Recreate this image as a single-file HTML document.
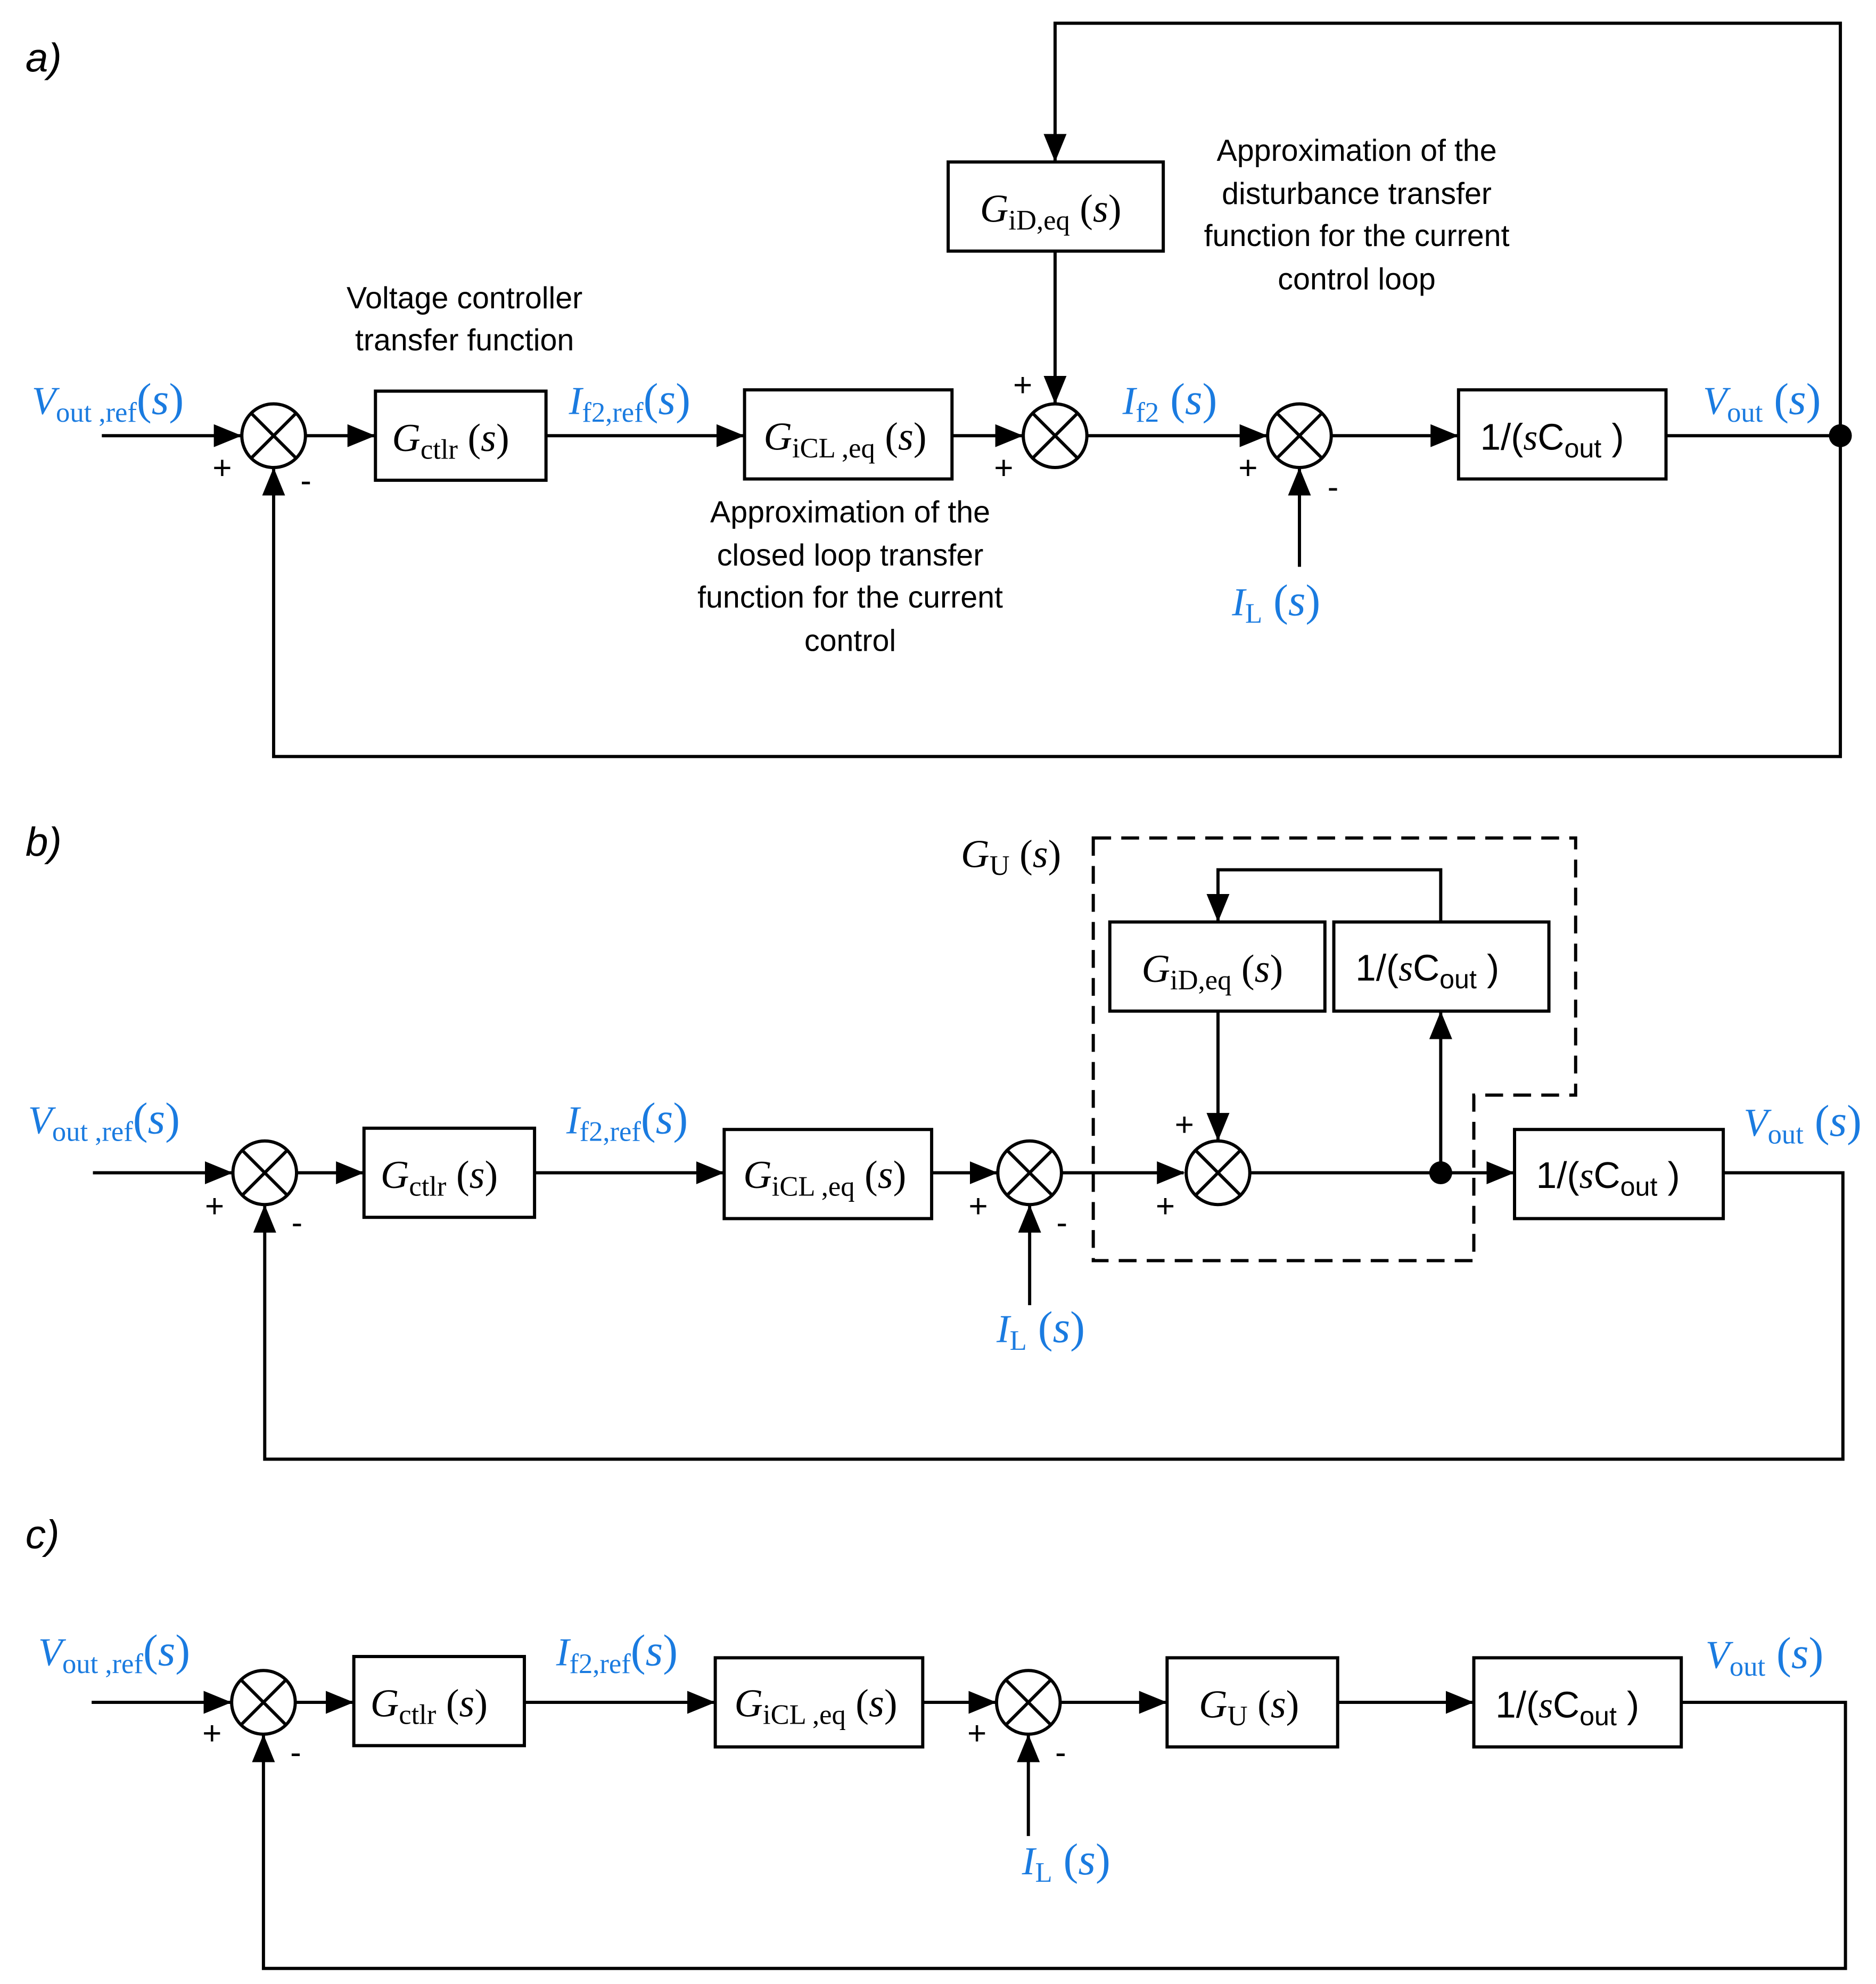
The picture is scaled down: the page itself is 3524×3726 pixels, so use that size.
<!DOCTYPE html>
<html><head><meta charset="utf-8"><style>
html,body{margin:0;padding:0;background:#fff}
svg{display:block}
text{font-family:"Liberation Serif",serif}
.sans text,text.sans{font-family:"Liberation Sans",sans-serif;font-size:24px}
.b{font-size:31px}
.blue{fill:#1a7be0}
.i{font-style:italic}
.sub{font-size:22px}
.pm text{font-family:"Liberation Sans",sans-serif;font-size:26px}
.p{font-size:35px}
</style></head><body>
<svg width="3524" height="3726" viewBox="0 0 1474 1558" xmlns="http://www.w3.org/2000/svg">
<defs><marker id="a" markerWidth="22" markerHeight="18" refX="21" refY="9" orient="auto" markerUnits="userSpaceOnUse"><path d="M0,0 L22,9 L0,18 z" fill="#000"/></marker></defs>
<g fill="none" stroke="#000" stroke-width="2.5">
<polyline points="1446,342 1446,18 829,18 829,126" marker-end="url(#a)"/>
<polyline points="1446,342 1446,594 215,594 215,368" marker-end="url(#a)"/>
<line x1="80" y1="342" x2="189" y2="342" marker-end="url(#a)"/>
<line x1="241" y1="342" x2="294" y2="342" marker-end="url(#a)"/>
<line x1="429" y1="342" x2="584" y2="342" marker-end="url(#a)"/>
<line x1="748" y1="342" x2="803" y2="342" marker-end="url(#a)"/>
<line x1="829" y1="197" x2="829" y2="316" marker-end="url(#a)"/>
<line x1="855" y1="342" x2="995" y2="342" marker-end="url(#a)"/>
<line x1="1021" y1="445" x2="1021" y2="368" marker-end="url(#a)"/>
<line x1="1047" y1="342" x2="1145" y2="342" marker-end="url(#a)"/>
<line x1="1309" y1="342" x2="1446" y2="342"/>
<rect x="295" y="307" width="134" height="70"/>
<rect x="585" y="306" width="163" height="70"/>
<rect x="745" y="127" width="169" height="70"/>
<rect x="1146" y="306" width="163" height="70"/>
<line x1="73" y1="921" x2="182" y2="921" marker-end="url(#a)"/>
<line x1="234" y1="921" x2="285" y2="921" marker-end="url(#a)"/>
<line x1="420" y1="921" x2="568" y2="921" marker-end="url(#a)"/>
<line x1="732" y1="921" x2="783" y2="921" marker-end="url(#a)"/>
<line x1="809" y1="1025" x2="809" y2="947" marker-end="url(#a)"/>
<line x1="835" y1="921" x2="930" y2="921" marker-end="url(#a)"/>
<line x1="983" y1="921" x2="1189" y2="921" marker-end="url(#a)"/>
<line x1="957" y1="794" x2="957" y2="895" marker-end="url(#a)"/>
<line x1="1132" y1="921" x2="1132" y2="795" marker-end="url(#a)"/>
<polyline points="1132,724 1132,683 957,683 957,723" marker-end="url(#a)"/>
<polyline points="1354,921 1448,921 1448,1146 208,1146 208,947" marker-end="url(#a)"/>
<rect x="286" y="886" width="134" height="70"/>
<rect x="569" y="887" width="163" height="70"/>
<rect x="872" y="724" width="169" height="70"/>
<rect x="1048" y="724" width="169" height="70"/>
<rect x="1190" y="887" width="164" height="70"/>
<polygon points="859,658 1238,658 1238,860 1158,860 1158,990 859,990" stroke-dasharray="14,8"/>
<line x1="72" y1="1337" x2="181" y2="1337" marker-end="url(#a)"/>
<line x1="233" y1="1337" x2="277" y2="1337" marker-end="url(#a)"/>
<line x1="412" y1="1337" x2="561" y2="1337" marker-end="url(#a)"/>
<line x1="725" y1="1337" x2="782" y2="1337" marker-end="url(#a)"/>
<line x1="808" y1="1442" x2="808" y2="1363" marker-end="url(#a)"/>
<line x1="834" y1="1337" x2="916" y2="1337" marker-end="url(#a)"/>
<line x1="1051" y1="1337" x2="1157" y2="1337" marker-end="url(#a)"/>
<polyline points="1321,1337 1450,1337 1450,1546 207,1546 207,1363" marker-end="url(#a)"/>
<rect x="278" y="1301" width="134" height="70"/>
<rect x="562" y="1302" width="163" height="70"/>
<rect x="917" y="1302" width="134" height="70"/>
<rect x="1158" y="1302" width="163" height="70"/>
</g>
<g fill="#fff" stroke="#000" stroke-width="2.5">
<circle cx="215" cy="342" r="25"/><path d="M197,324 L233,360 M233,324 L197,360"/>
<circle cx="829" cy="342" r="25"/><path d="M811,324 L847,360 M847,324 L811,360"/>
<circle cx="1021" cy="342" r="25"/><path d="M1003,324 L1039,360 M1039,324 L1003,360"/>
<circle cx="208" cy="921" r="25"/><path d="M190,903 L226,939 M226,903 L190,939"/>
<circle cx="809" cy="921" r="25"/><path d="M791,903 L827,939 M827,903 L791,939"/>
<circle cx="957" cy="921" r="25"/><path d="M939,903 L975,939 M975,903 L939,939"/>
<circle cx="207" cy="1337" r="25"/><path d="M189,1319 L225,1355 M225,1319 L189,1355"/>
<circle cx="808" cy="1337" r="25"/><path d="M790,1319 L826,1355 M826,1319 L790,1355"/>
</g>
<circle cx="1446" cy="342" r="9"/>
<circle cx="1132" cy="921" r="9"/>
<text x="20" y="56" class="sans i" style="font-size:32px">a)</text>
<text x="20" y="672" class="sans i" style="font-size:32px">b)</text>
<text x="20" y="1216" class="sans i" style="font-size:32px">c)</text>
<g class="pm">
<text x="167" y="376">+</text><text x="236" y="386">-</text>
<text x="796" y="311">+</text><text x="781" y="376">+</text>
<text x="973" y="376">+</text><text x="1043" y="391">-</text>
<text x="161" y="956">+</text><text x="229" y="969">-</text>
<text x="761" y="956">+</text><text x="830" y="969">-</text>
<text x="923" y="892">+</text><text x="908" y="956">+</text>
<text x="159" y="1370">+</text><text x="228" y="1385">-</text>
<text x="760" y="1370">+</text><text x="829" y="1385">-</text>
</g>
<g class="sans" text-anchor="middle">
<text x="365" y="242">Voltage controller</text><text x="365" y="275">transfer function</text>
<text x="668" y="410">Approximation of the</text><text x="668" y="444">closed loop transfer</text>
<text x="668" y="477">function for the current</text><text x="668" y="511">control</text>
<text x="1066" y="126">Approximation of the</text><text x="1066" y="160">disturbance transfer</text>
<text x="1066" y="193">function for the current</text><text x="1066" y="227">control loop</text>
</g>
<g class="b">
<text x="308" y="354"><tspan class="i">G</tspan><tspan class="sub" dy="6">ctlr</tspan><tspan dy="-6"> (</tspan><tspan class="i">s</tspan>)</text>
<text x="600" y="353"><tspan class="i">G</tspan><tspan class="sub" dy="6">iCL ,eq</tspan><tspan dy="-6"> (</tspan><tspan class="i">s</tspan>)</text>
<text x="770" y="174"><tspan class="i">G</tspan><tspan class="sub" dy="6">iD,eq</tspan><tspan dy="-6"> (</tspan><tspan class="i">s</tspan>)</text>
<text x="1163" y="353" style="font-family:'Liberation Sans',sans-serif;font-size:29px">1/(<tspan class="i" style="font-family:'Liberation Serif',serif">s</tspan>C<tspan dy="6" style="font-size:21px">out</tspan><tspan dy="-6"> )</tspan></text>
<text x="299" y="933"><tspan class="i">G</tspan><tspan class="sub" dy="6">ctlr</tspan><tspan dy="-6"> (</tspan><tspan class="i">s</tspan>)</text>
<text x="584" y="933"><tspan class="i">G</tspan><tspan class="sub" dy="6">iCL ,eq</tspan><tspan dy="-6"> (</tspan><tspan class="i">s</tspan>)</text>
<text x="897" y="771"><tspan class="i">G</tspan><tspan class="sub" dy="6">iD,eq</tspan><tspan dy="-6"> (</tspan><tspan class="i">s</tspan>)</text>
<text x="1065" y="770" style="font-family:'Liberation Sans',sans-serif;font-size:29px">1/(<tspan class="i" style="font-family:'Liberation Serif',serif">s</tspan>C<tspan dy="6" style="font-size:21px">out</tspan><tspan dy="-6"> )</tspan></text>
<text x="1207" y="933" style="font-family:'Liberation Sans',sans-serif;font-size:29px">1/(<tspan class="i" style="font-family:'Liberation Serif',serif">s</tspan>C<tspan dy="6" style="font-size:21px">out</tspan><tspan dy="-6"> )</tspan></text>
<text x="291" y="1348"><tspan class="i">G</tspan><tspan class="sub" dy="6">ctlr</tspan><tspan dy="-6"> (</tspan><tspan class="i">s</tspan>)</text>
<text x="577" y="1348"><tspan class="i">G</tspan><tspan class="sub" dy="6">iCL ,eq</tspan><tspan dy="-6"> (</tspan><tspan class="i">s</tspan>)</text>
<text x="942" y="1349"><tspan class="i">G</tspan><tspan class="sub" dy="6">U</tspan><tspan dy="-6"> (</tspan><tspan class="i">s</tspan>)</text>
<text x="1175" y="1349" style="font-family:'Liberation Sans',sans-serif;font-size:29px">1/(<tspan class="i" style="font-family:'Liberation Serif',serif">s</tspan>C<tspan dy="6" style="font-size:21px">out</tspan><tspan dy="-6"> )</tspan></text>
<text x="755" y="681"><tspan class="i">G</tspan><tspan class="sub" dy="6">U</tspan><tspan dy="-6"> (</tspan><tspan class="i">s</tspan>)</text>
</g>
<g class="b blue">
<text x="25" y="325"><tspan class="i">V</tspan><tspan class="sub" dy="6">out ,ref</tspan><tspan dy="-6" class="p">(</tspan><tspan class="i p">s</tspan><tspan class="p">)</tspan></text>
<text x="447" y="325"><tspan class="i">I</tspan><tspan class="sub" dy="6">f2,ref</tspan><tspan dy="-6" class="p">(</tspan><tspan class="i p">s</tspan><tspan class="p">)</tspan></text>
<text x="882" y="325"><tspan class="i">I</tspan><tspan class="sub" dy="6">f2</tspan><tspan dy="-6" class="p"> (</tspan><tspan class="i p">s</tspan><tspan class="p">)</tspan></text>
<text x="1338" y="325"><tspan class="i">V</tspan><tspan class="sub" dy="6">out</tspan><tspan dy="-6" class="p"> (</tspan><tspan class="i p">s</tspan><tspan class="p">)</tspan></text>
<text x="968" y="483"><tspan class="i">I</tspan><tspan class="sub" dy="6">L</tspan><tspan dy="-6" class="p"> (</tspan><tspan class="i p">s</tspan><tspan class="p">)</tspan></text>
<text x="22" y="890"><tspan class="i">V</tspan><tspan class="sub" dy="6">out ,ref</tspan><tspan dy="-6" class="p">(</tspan><tspan class="i p">s</tspan><tspan class="p">)</tspan></text>
<text x="445" y="890"><tspan class="i">I</tspan><tspan class="sub" dy="6">f2,ref</tspan><tspan dy="-6" class="p">(</tspan><tspan class="i p">s</tspan><tspan class="p">)</tspan></text>
<text x="1370" y="892"><tspan class="i">V</tspan><tspan class="sub" dy="6">out</tspan><tspan dy="-6" class="p"> (</tspan><tspan class="i p">s</tspan><tspan class="p">)</tspan></text>
<text x="783" y="1054"><tspan class="i">I</tspan><tspan class="sub" dy="6">L</tspan><tspan dy="-6" class="p"> (</tspan><tspan class="i p">s</tspan><tspan class="p">)</tspan></text>
<text x="30" y="1308"><tspan class="i">V</tspan><tspan class="sub" dy="6">out ,ref</tspan><tspan dy="-6" class="p">(</tspan><tspan class="i p">s</tspan><tspan class="p">)</tspan></text>
<text x="437" y="1308"><tspan class="i">I</tspan><tspan class="sub" dy="6">f2,ref</tspan><tspan dy="-6" class="p">(</tspan><tspan class="i p">s</tspan><tspan class="p">)</tspan></text>
<text x="1340" y="1310"><tspan class="i">V</tspan><tspan class="sub" dy="6">out</tspan><tspan dy="-6" class="p"> (</tspan><tspan class="i p">s</tspan><tspan class="p">)</tspan></text>
<text x="803" y="1472"><tspan class="i">I</tspan><tspan class="sub" dy="6">L</tspan><tspan dy="-6" class="p"> (</tspan><tspan class="i p">s</tspan><tspan class="p">)</tspan></text>
</g>
</svg>
</body></html>
